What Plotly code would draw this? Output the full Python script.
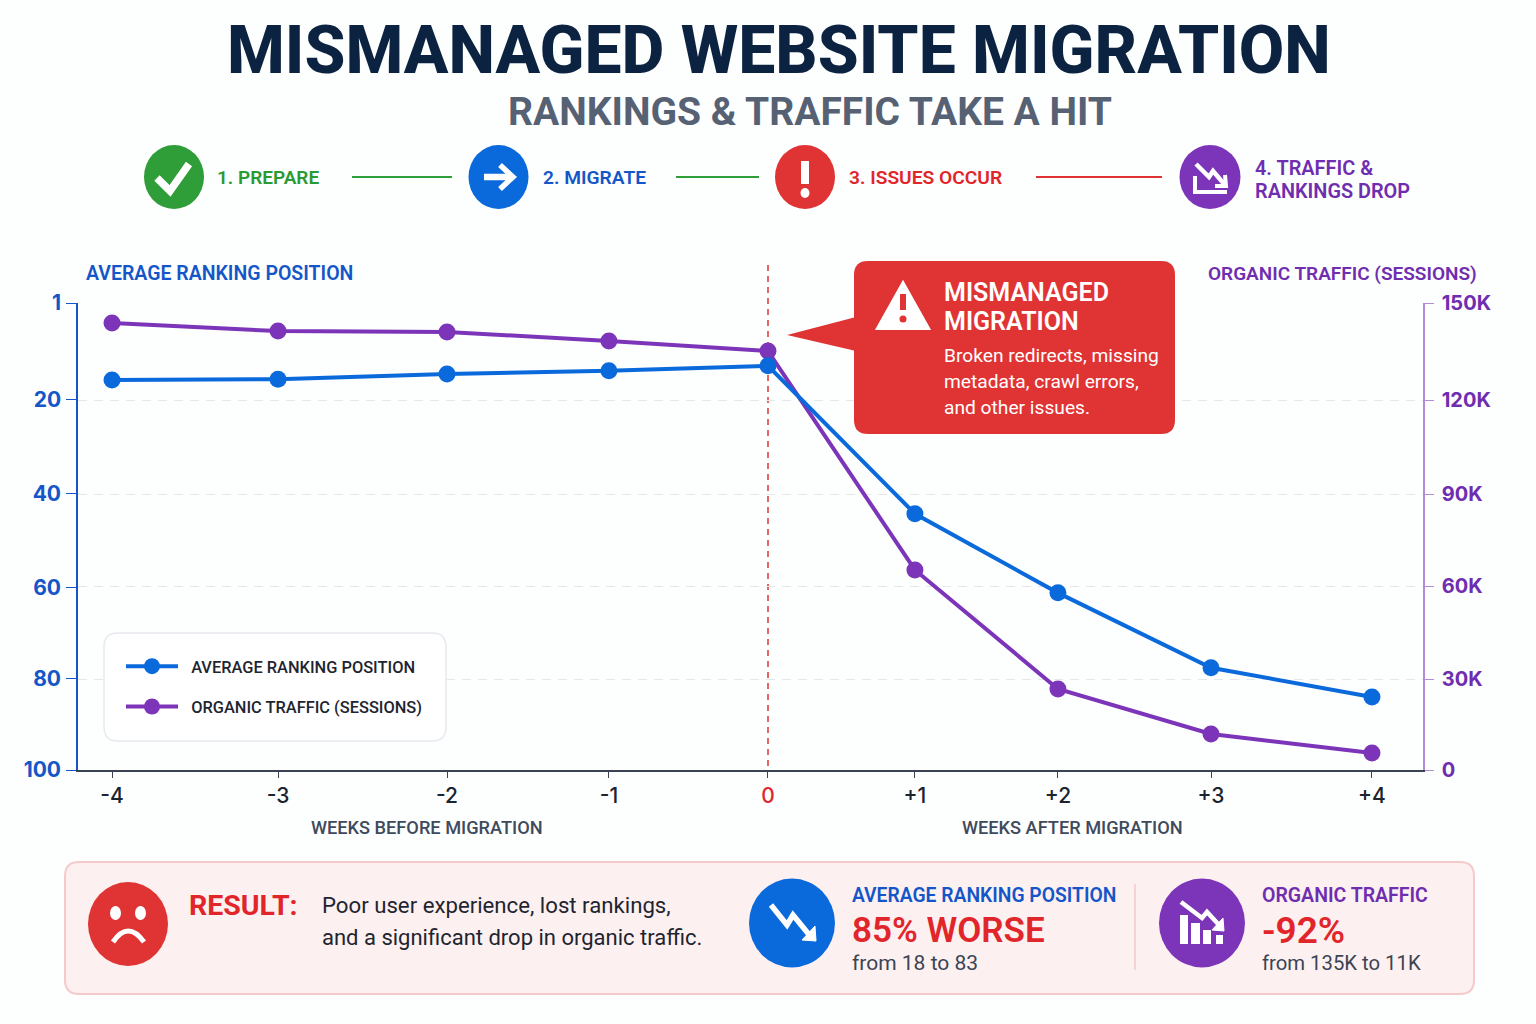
import plotly.graph_objects as go

# ---------- data ----------
week_labels = ["-4", "-3", "-2", "-1", "0", "+1", "+2", "+3", "+4"]
week_axis = [-4.165, -3.111, -2.038, -1.01, 0, 0.933, 1.841, 2.813, 3.835]
ranking = [15.7, 15.5, 14.4, 13.7, 12.6, 44.6, 61.7, 77.9, 84.2]
traffic_k = [145.0, 142.4, 142.1, 139.2, 135.9, 64.9, 26.3, 11.7, 5.5]
rank_tick_vals = [-0.97, 20, 40.3, 60.5, 80.3, 100]
rank_tick_text = ["1", "20", "40", "60", "80", "100"]
traffic_tick_vals = [0, 29.5, 59.6, 89.5, 120, 151.5]
traffic_tick_text = ["0", "30K", "60K", "90K", "120K", "150K"]

W, H = 1536, 1024
BLUE, PURPLE, RED, GREEN = "#0b6adb", "#7c35b8", "#e03434", "#2f9e38"
BLUE_T, PURPLE_T, RED_T, GREEN_T = "#1456c8", "#6f2db0", "#e1262b", "#2a9a32"
SANS = "Inter"
COND = "Roboto"


def fx(p):
    return p / W


def fy(p):
    return 1 - p / H


shapes, notes = [], []


def text(x, y, s, size, color, weight=400, anchor="left", font=SANS):
    shift = -2.2 if anchor == "left" else 0
    notes.append(dict(x=fx(x + shift), y=fy(y), xref="paper", yref="paper", text=s, showarrow=False,
                      xanchor=anchor, yanchor="middle", align=anchor,
                      font=dict(family=font, size=size, color=color, weight=weight)))


def ell(cx, cy, rx, ry, color):
    shapes.append(dict(type="circle", xref="paper", yref="paper", layer="above",
                       x0=fx(cx - rx), x1=fx(cx + rx), y0=fy(cy - ry), y1=fy(cy + ry),
                       fillcolor=color, line=dict(width=0)))


def poly(pts, color, width=0, fill=None, close=False):
    d = "M" + " L".join(f"{fx(a):.5f},{fy(b):.5f}" for a, b in pts) + (" Z" if close else "")
    shapes.append(dict(type="path", xref="paper", yref="paper", layer="above", path=d,
                       fillcolor=fill if fill else "rgba(0,0,0,0)",
                       line=dict(color=color, width=width)))


def rrect(x0, y0, x1, y1, r, fill, line=None, lw=0):
    P = lambda a, b: f"{fx(a):.5f},{fy(b):.5f}"
    d = (f"M{P(x0 + r, y0)} L{P(x1 - r, y0)} Q{P(x1, y0)} {P(x1, y0 + r)} "
         f"L{P(x1, y1 - r)} Q{P(x1, y1)} {P(x1 - r, y1)} L{P(x0 + r, y1)} "
         f"Q{P(x0, y1)} {P(x0, y1 - r)} L{P(x0, y0 + r)} Q{P(x0, y0)} {P(x0 + r, y0)} Z")
    shapes.append(dict(type="path", xref="paper", yref="paper", layer="above", path=d,
                       fillcolor=fill, line=dict(color=line or fill, width=lw)))


# ---------- header ----------
text(779, 50, "MISMANAGED WEBSITE MIGRATION", 66, "#0b2240", 800, "center", COND)
text(810, 112, "RANKINGS &amp; TRAFFIC TAKE A HIT", 39, "#566274", 700, "center", COND)

# ---------- process steps ----------
for a, b, c in [(352, 452, GREEN), (676, 759, GREEN), (1036, 1162, RED)]:
    poly([(a, 177), (b, 177)], c, 2.2)

ell(174, 177, 30, 32, GREEN)
poly([(157, 178), (170, 191), (189, 164)], "white", 7.5)
text(217, 177, "1. PREPARE", 19, GREEN_T, 600, font=COND)

ell(498.5, 177, 30, 32, BLUE)
poly([(484, 177), (511, 177)], "white", 6.5)
poly([(500, 165), (513, 177), (500, 189)], "white", 5.5)
text(543, 177, "2. MIGRATE", 19.2, BLUE_T, 600, font=COND)

ell(805, 177, 30, 32, RED)
poly([(805, 161), (805, 184)], "white", 8)
ell(805, 193, 4.5, 5, "white")
text(849, 177, "3. ISSUES OCCUR", 19.2, RED_T, 600, font=COND)

ell(1210, 177, 30.5, 32, PURPLE)
poly([(1196, 164), (1209, 177), (1213, 171), (1225, 185)], "white", 4.5)
poly([(1225, 175), (1226, 186), (1215, 186)], "white", 4)
poly([(1195, 176), (1195, 192), (1227, 192)], "white", 4)
text(1255, 168, "4. TRAFFIC &amp;", 19.9, PURPLE_T, 600, font=COND)
text(1255, 191, "RANKINGS DROP", 19.9, PURPLE_T, 600, font=COND)

# ---------- chart furniture ----------
text(86, 273, "AVERAGE RANKING POSITION", 19.5, BLUE_T, 600, font=COND)
text(1208, 273, "ORGANIC TRAFFIC (SESSIONS)", 19, PURPLE_T, 600, font=COND)
text(427, 827, "WEEKS BEFORE MIGRATION", 18.2, "#3f4a5c", 500, "center", COND)
text(1072, 827, "WEEKS AFTER MIGRATION", 18.2, "#3f4a5c", 500, "center", COND)

shapes.append(dict(type="line", xref="paper", yref="paper", layer="below", x0=fx(768), x1=fx(768),
                   y0=fy(265), y1=fy(770), line=dict(color="#e0403f", width=1.6, dash="6px,5px")))

# legend panel
rrect(104, 633, 446, 741, 14, "#ffffff", "#e7e9ee", 1.5)

# ---------- callout ----------
rrect(854, 261, 1175, 434, 14, RED)
poly([(856, 317), (787, 335), (856, 351)], RED, 0, RED, True)
poly([(903, 286), (880, 327), (926, 327)], "white", 6, "white", True)
poly([(903, 294), (903, 310)], RED, 6)
ell(903, 319, 3.5, 3.5, RED)
text(944, 292, "MISMANAGED", 25, "white", 600, font=COND)
text(944, 321, "MIGRATION", 25, "white", 600, font=COND)
text(944, 355, "Broken redirects, missing", 19.2, "white", 400, font=COND)
text(944, 381, "metadata, crawl errors,", 19.2, "white", 400, font=COND)
text(944, 407, "and other issues.", 19.2, "white", 400, font=COND)

# ---------- result panel ----------
rrect(65, 862, 1474, 994, 14, "#fdf0f0", "#f6caca", 2)
ell(128, 924, 40, 42, RED)
ell(115.5, 913, 5.5, 7, "white")
ell(140.5, 913, 5.5, 7, "white")
shapes.append(dict(type="path", xref="paper", yref="paper", layer="above",
                   path=f"M{fx(113):.5f},{fy(942):.5f} Q{fx(128):.5f},{fy(920):.5f} {fx(144):.5f},{fy(942):.5f}",
                   fillcolor="rgba(0,0,0,0)", line=dict(color="white", width=5)))
text(189, 905, "RESULT:", 28.5, RED_T, 700, font=COND)
text(322, 905, "Poor user experience, lost rankings,", 22.2, "#1e2530", 400, font=COND)
text(322, 937, "and a significant drop in organic traffic.", 22, "#1e2530", 400, font=COND)

ell(792, 923, 43, 44.5, BLUE)
poly([(771, 905), (787, 925), (793, 915), (811, 937)], "white", 5.5)
poly([(815, 926), (816, 941), (802, 940)], "white", 1, "white", True)
text(852, 895, "AVERAGE RANKING POSITION", 19.3, BLUE_T, 600, font=COND)
text(852, 930, "85% WORSE", 35, RED_T, 600, font=COND)
text(852, 963, "from 18 to 83", 21, "#3a4454", 400, font=COND)

poly([(1135, 884), (1135, 970)], "#f3c9c9", 1.5)

ell(1202, 923, 43, 44.5, PURPLE)
for a, b, top in [(1180, 1188, 915), (1191, 1200, 923), (1203, 1211, 930), (1216, 1223, 935)]:
    poly([(a, top), (b, top), (b, 944), (a, 944)], "white", 0, "white", True)
poly([(1181, 902), (1202, 918), (1207, 912), (1220, 926)], PURPLE, 9)
poly([(1181, 902), (1202, 918), (1207, 912), (1220, 926)], "white", 4.5)
poly([(1223, 918), (1224, 931), (1212, 930)], "white", 1, "white", True)
text(1262, 895, "ORGANIC TRAFFIC", 19.5, PURPLE_T, 600, font=COND)
text(1262, 930, "-92%", 37, RED_T, 600, font=COND)
text(1262, 963, "from 135K to 11K", 20.3, "#3a4454", 400, font=COND)

# ---------- traces ----------
fig = go.Figure()
fig.add_trace(go.Scatter(x=week_axis, y=ranking, name="\u00a0\u00a0AVERAGE RANKING POSITION", yaxis="y2",
                         legendgroup="r", mode="lines+markers",
                         line=dict(color=BLUE, width=4), marker=dict(color=BLUE, size=17)))
fig.add_trace(go.Scatter(x=week_axis, y=traffic_k, name="\u00a0\u00a0ORGANIC TRAFFIC (SESSIONS)", yaxis="y",
                         legendgroup="t", mode="lines+markers",
                         line=dict(color=PURPLE, width=4), marker=dict(color=PURPLE, size=17)))

tick_text = [f'<span style="color:{RED_T}">{t}</span>' if t == "0" else t for t in week_labels]
dom_y = [fy(770), fy(303)]

fig.update_layout(
    width=W, height=H, autosize=False, margin=dict(l=0, r=0, t=0, b=0, autoexpand=False),
    paper_bgcolor="#fdfefe", plot_bgcolor="rgba(0,0,0,0)",
    shapes=shapes, annotations=notes,
    hovermode=False,
    legend=dict(x=fx(121), y=fy(649), xanchor="left", yanchor="top", bgcolor="rgba(0,0,0,0)",
                itemwidth=52, tracegroupgap=16, groupclick="toggleitem",
                font=dict(family=COND, size=16.4, color="#1e2530", weight=500)),
    xaxis=dict(domain=[fx(78), fx(1423)], range=[-4.381, 4.159], tickmode="array",
               tickvals=week_axis, ticktext=tick_text, showgrid=False, zeroline=False,
               showline=True, linecolor="#3b4352", linewidth=2, ticks="outside", ticklen=6,
               tickcolor="#3b4352", tickwidth=1.2,
               tickfont=dict(family=SANS, size=21, color="#1c2430", weight=500)),
    yaxis=dict(domain=dom_y, range=[0, 151.5], side="right", anchor="x", tickmode="array",
               tickvals=traffic_tick_vals, ticktext=traffic_tick_text, zeroline=False,
               showgrid=True, gridcolor="#e6e7eb", griddash="9px,7px", gridwidth=1.2,
               showline=True, linecolor="#b48bd8", linewidth=1.5, ticks="outside", ticklen=9,
               tickcolor="#b48bd8", ticklabelstandoff=4,
               tickfont=dict(family=SANS, size=20, color=PURPLE_T, weight=700)),
    yaxis2=dict(domain=dom_y, range=[100, -0.97], side="left", overlaying="y", anchor="x", tickmode="array",
                tickvals=rank_tick_vals, ticktext=rank_tick_text, zeroline=False, showgrid=False,
                showline=True, linecolor=BLUE_T, linewidth=1.5, ticks="outside", ticklen=10,
                tickcolor=BLUE_T, ticklabelstandoff=1,
                tickfont=dict(family=SANS, size=21, color=BLUE_T, weight=700)),
)

fig.write_html("out.html", config=dict(displayModeBar=False),
               post_script="document.body.style.margin='0';document.body.style.overflow='hidden';")
